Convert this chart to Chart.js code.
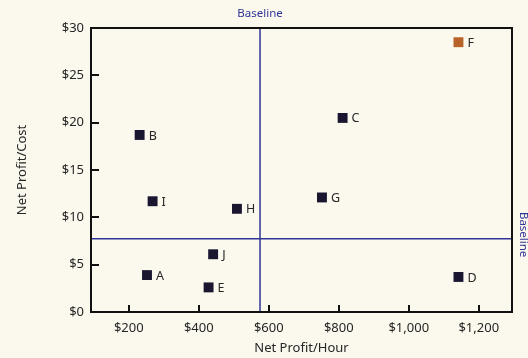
<!DOCTYPE html>
<html>
<head>
<meta charset="utf-8">
<script src="https://cdn.jsdelivr.net/npm/chart.js@4/dist/chart.umd.min.js"></script>
<style>
  html, body { margin: 0; padding: 0; background: #fbf8ee; }
  #wrap { width: 528px; height: 358px; }
</style>
</head>
<body>
<div id="wrap"><canvas id="c" width="528" height="358"></canvas></div>
<script>
// ===== Profit quadrant scatter =====
const pointLabels = ['A', 'B', 'C', 'D', 'E', 'F', 'G', 'H', 'I', 'J'];
const profitPerHour = [252, 231, 811, 1142, 428, 1142, 752, 509, 268, 441];
const profitPerCost = [3.9, 18.7, 20.5, 3.7, 2.6, 28.5, 12.1, 10.9, 11.7, 6.1];
const highlighted = ['F'];
const xTicks = [200, 400, 600, 800, 1000, 1200];
const yTicks = [0, 5, 10, 15, 20, 25, 30];
const baselineX = 575;
const baselineY = 7.75;

const ink = '#262626';
const navy = '#1b1630';
const blue = '#2f3596';
const rust = '#b8632a';
const FONT = '"Noto Sans", sans-serif';

const points = profitPerHour.map((x, i) => ({ x, y: profitPerCost[i] }));

const backdrop = {
    id: 'backdrop',
    beforeDraw(chart) {
        const { ctx, width, height } = chart;
        ctx.save();
        ctx.fillStyle = '#fbf8ee';
        ctx.fillRect(0, 0, width, height);
        ctx.restore();
    }
};

// frame, inward ticks, baseline captions, point letters
const decorations = {
    id: 'decorations',
    afterDatasetsDraw(chart) {
        const { ctx, chartArea: a, scales: { x, y } } = chart;
        ctx.save();
        // inward tick marks
        ctx.strokeStyle = '#111';
        ctx.lineWidth = 2;
        ctx.beginPath();
        xTicks.forEach(v => { const px = Math.round(x.getPixelForValue(v)); ctx.moveTo(px, a.bottom); ctx.lineTo(px, a.bottom - 7); });
        yTicks.slice(1, -1).forEach(v => { const py = Math.round(y.getPixelForValue(v)); ctx.moveTo(a.left, py); ctx.lineTo(a.left + 8, py); });
        ctx.stroke();
        // frame
        ctx.lineWidth = 2;
        ctx.strokeRect(a.left, a.top, a.right - a.left, a.bottom - a.top);

        // point letters
        ctx.fillStyle = ink;
        ctx.font = '12.5px ' + FONT;
        ctx.textBaseline = 'middle';
        ctx.textAlign = 'left';
        chart.getDatasetMeta(0).data.forEach((el, i) => {
            ctx.fillText(pointLabels[i], el.x + 9, el.y + 1);
        });

        // baseline captions
        ctx.fillStyle = blue;
        ctx.font = '11.5px ' + FONT;
        ctx.textAlign = 'center';
        ctx.fillText('Baseline', x.getPixelForValue(baselineX), 14);
        ctx.translate(523, y.getPixelForValue(baselineY) - 4);
        ctx.rotate(Math.PI / 2);
        ctx.fillText('Baseline', 0, 0);
        ctx.restore();
    }
};

new Chart(document.getElementById('c').getContext('2d'), {
    type: 'scatter',
    data: { datasets: [
        { label: 'Projects', data: points, pointStyle: 'rect', pointRadius: 7, pointHoverRadius: 7, borderWidth: 0,
          backgroundColor: pointLabels.map(l => highlighted.includes(l) ? rust : navy), order: 1 },
        { label: 'Baseline hour', type: 'line', data: [{ x: baselineX, y: 0 }, { x: baselineX, y: 30 }],
          borderColor: blue, borderWidth: 1.5, pointRadius: 0, order: 2 },
        { label: 'Baseline cost', type: 'line', data: [{ x: 92, y: baselineY }, { x: 1295, y: baselineY }],
          borderColor: blue, borderWidth: 1.5, pointRadius: 0, order: 2 }
    ]},
    options: {
        responsive: false, animation: false,
        layout: { padding: { top: 28, right: 16, left: 0, bottom: 0 } },
        scales: {
            x: { type: 'linear', min: 92, max: 1295,
                afterBuildTicks: s => { s.ticks = xTicks.map(value => ({ value })); },
                afterFit: s => { s.height = 46; },
                grid: { display: false, drawTicks: false }, border: { display: false },
                ticks: { padding: 8, color: ink, font: { family: FONT, size: 13 }, callback: v => '$' + v.toLocaleString('en-US') },
                title: { display: true, text: 'Net Profit/Hour', color: ink, font: { family: FONT, size: 13 }, padding: { bottom: 2 } } },
            y: { type: 'linear', min: 0, max: 30,
                afterBuildTicks: s => { s.ticks = yTicks.map(value => ({ value })); },
                afterFit: s => { s.width = 91; },
                grid: { display: false, drawTicks: false }, border: { display: false },
                ticks: { padding: 7, color: ink, font: { family: FONT, size: 13 }, callback: v => '$' + v },
                title: { display: true, text: 'Net Profit/Cost', color: ink, font: { family: FONT, size: 13 }, padding: { top: 14 } } }
        },
        plugins: { legend: { display: false }, tooltip: { enabled: false } }
    },
    plugins: [backdrop, decorations]
});
</script>
</body>
</html>
